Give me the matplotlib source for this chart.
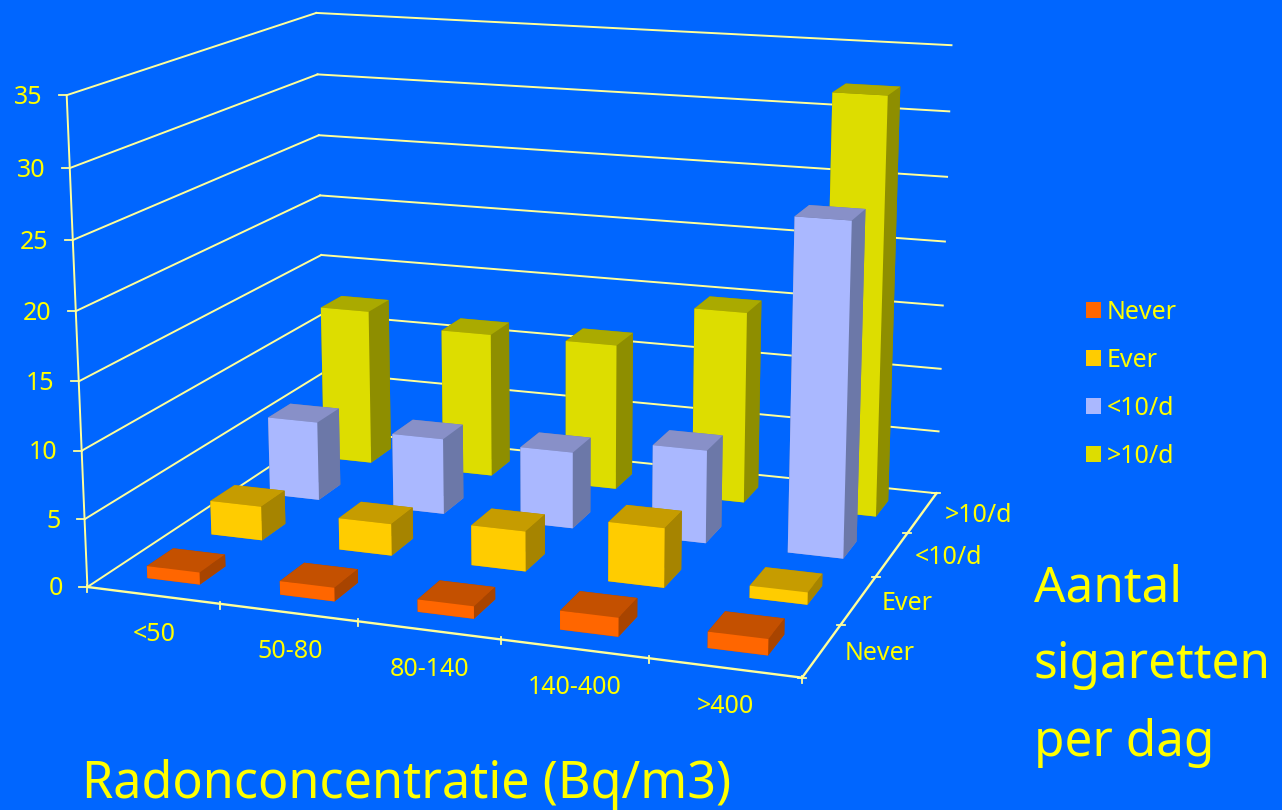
import numpy as np
import matplotlib
matplotlib.use("Agg")
import matplotlib.pyplot as plt
from matplotlib.lines import Line2D
from matplotlib.patches import Patch
from mpl_toolkits.mplot3d import proj3d

plt.rcParams['font.family'] = ['Noto Sans', 'DejaVu Sans']

# Radon classes and smoking classes
radon = ['<50', '50-80', '80-140', '140-400', '>400']
smoking = ['Never', 'Ever', '<10/d', '>10/d']
z_ticks = [0, 5, 10, 15, 20, 25, 30, 35]

never = [0.9, 1.0, 0.9, 1.35, 1.15]
ever = [2.6, 2.4, 3.0, 4.4, 0.9]
lt10 = [6.2, 5.9, 5.9, 7.1, 25.0]
gt10 = [12.5, 11.5, 11.55, 15.0, 32.2]
series = [never, ever, lt10, gt10]

BG = '#0066FF'
TXT = '#FFFF00'
LINE = '#FFFF99'
# front, top, side colours per smoking class
front = ['#FF6600', '#FFCC00', '#AAB8FF', '#DDDD00']
top = ['#C45000', '#C69C00', '#8890C8', '#AAAA00']
side = ['#A84400', '#A68400', '#6C78A8', '#8E8E00']

W, H = 1282, 810
BAR_W = 0.4
BAR_D = 0.4

# Camera calibration: (x, y, z) on the chart box and where it lands on the canvas
calib = [
    (0, 0, 0, 88, 587), (0, 0, 35, 68, 96), (0, 0, 15, 78, 380),
    (5, 0, 0, 800.7, 677.5), (1, 0, 0, 220, 604), (2, 0, 0, 358, 621),
    (3, 0, 0, 500, 640), (4, 0, 0, 648, 660),
    (5, 4, 0, 934, 494), (5, 4, 35, 952, 46),
    (0, 4, 0, 326, 431), (0, 4, 35, 315, 12),
    (5, 1, 0, 842, 624), (5, 2, 0, 877, 576), (5, 3, 0, 909, 532),
]
A = []
for x, y, z, u, v in calib:
    A.append([x, y, z, 1, 0, 0, 0, 0, -u*x, -u*y, -u*z, -u])
    A.append([0, 0, 0, 0, x, y, z, 1, -v*x, -v*y, -v*z, -v])
P = np.linalg.svd(np.array(A, dtype=float))[2][-1].reshape(3, 4)
P = P / (P[2] @ [2.5, 2, 0, 1])
M = np.vstack([P[0], P[1], P[2] - [0, 0, 0, 1], P[2]])


def to_px(x, y, z):
    u, v, _ = proj3d.proj_transform(x, y, z, M)
    return float(u), float(v)


fig = plt.figure(figsize=(W / 100, H / 100), dpi=100, facecolor=BG)
# square axes covering the whole canvas, 2D limits in canvas pixels
pad = (W - H) / 2
ax = fig.add_axes([0, -pad / H, 1, W / H], projection='3d')
ax.set_axis_off()
ax.patch.set_facecolor(BG)
ax.computed_zorder = False
# ortho mode keeps lines from being masked outside the -1..1 range
ax.set_proj_type('ortho')
ax.viewLim.intervalx = (0, W)
ax.viewLim.intervaly = (H + pad, -pad)
ax.get_proj = lambda: M
ax.M = M

# walls and floor
nx, ny = len(radon), len(smoking)
for z in z_ticks:
    ax.plot([0, 0], [0, ny], [z, z], color=LINE, lw=1.4, zorder=1)
    ax.plot([0, nx], [ny, ny], [z, z], color=LINE, lw=1.4, zorder=1)
ax.plot([0, 0], [0, 0], [0, 35], color=LINE, lw=1.4, zorder=1)
ax.plot([0, nx], [0, 0], [0, 0], color=LINE, lw=1.7, zorder=1)
ax.plot([nx, nx], [0, ny], [0, 0], color=LINE, lw=1.7, zorder=1)

# bars from the back row to the front
z_order = 2
for j in range(ny - 1, -1, -1):
    for i in range(nx):
        colors = [top[j], top[j], front[j], side[j], side[j], side[j]]
        ax.bar3d(i + 0.5 - BAR_W / 2, j + 0.5 - BAR_D / 2, 0, BAR_W, BAR_D, series[j][i],
                 color=colors, shade=False, edgecolor=None, linewidth=0, zorder=z_order)
        z_order += 1


def tick(u0, v0, u1, v1):
    fig.add_artist(Line2D([u0 / W, u1 / W], [1 - v0 / H, 1 - v1 / H], color=LINE, lw=1.3))


# tick marks and tick labels
for z in z_ticks:
    u, v = to_px(0, 0, z)
    tick(u - 8, v, u, v)
    fig.text((u - 24) / W, 1 - (v + 2) / H, str(z), color=TXT, fontsize=18, ha='right', va='center')
for i in range(nx + 1):
    u, v = to_px(i, 0, 0)
    tick(u, v - 2, u, v + 5)
for i, name in enumerate(radon):
    u, v = to_px(i + 0.5, 0, 0)
    fig.text((u + 1) / W, 1 - (v + 39) / H, name, color=TXT, fontsize=18, ha='center', va='center')
for j in range(ny + 1):
    u, v = to_px(nx, j, 0)
    tick(u - 4, v, u + 4, v)
for j, name in enumerate(smoking):
    u, v = to_px(nx, j + 0.5, 0)
    fig.text((u + 23) / W, 1 - (v + 3) / H, name, color=TXT, fontsize=18, ha='left', va='center')

# legend
handles = [Patch(facecolor=c, edgecolor='none') for c in front]
fig.legend(handles, smoking, loc='upper left', bbox_to_anchor=(1086 / W, 1 - 300 / H),
           frameon=False, fontsize=18, labelcolor=TXT, labelspacing=0.92,
           handlelength=0.6, handleheight=0.6, handletextpad=0.24, borderpad=0, borderaxespad=0)

# large captions
fig.text(82 / W, 1 - 785 / H, 'Radonconcentratie (Bq/m3)', color=TXT, fontsize=36.2, ha='left', va='center')
fig.text(1034 / W, 1 - 588 / H, 'Aantal', color=TXT, fontsize=35.6, ha='left', va='center')
fig.text(1034 / W, 1 - 665 / H, 'sigaretten', color=TXT, fontsize=35.6, ha='left', va='center')
fig.text(1034 / W, 1 - 743 / H, 'per dag', color=TXT, fontsize=35.6, ha='left', va='center')

fig.savefig('out.png', dpi=100)
